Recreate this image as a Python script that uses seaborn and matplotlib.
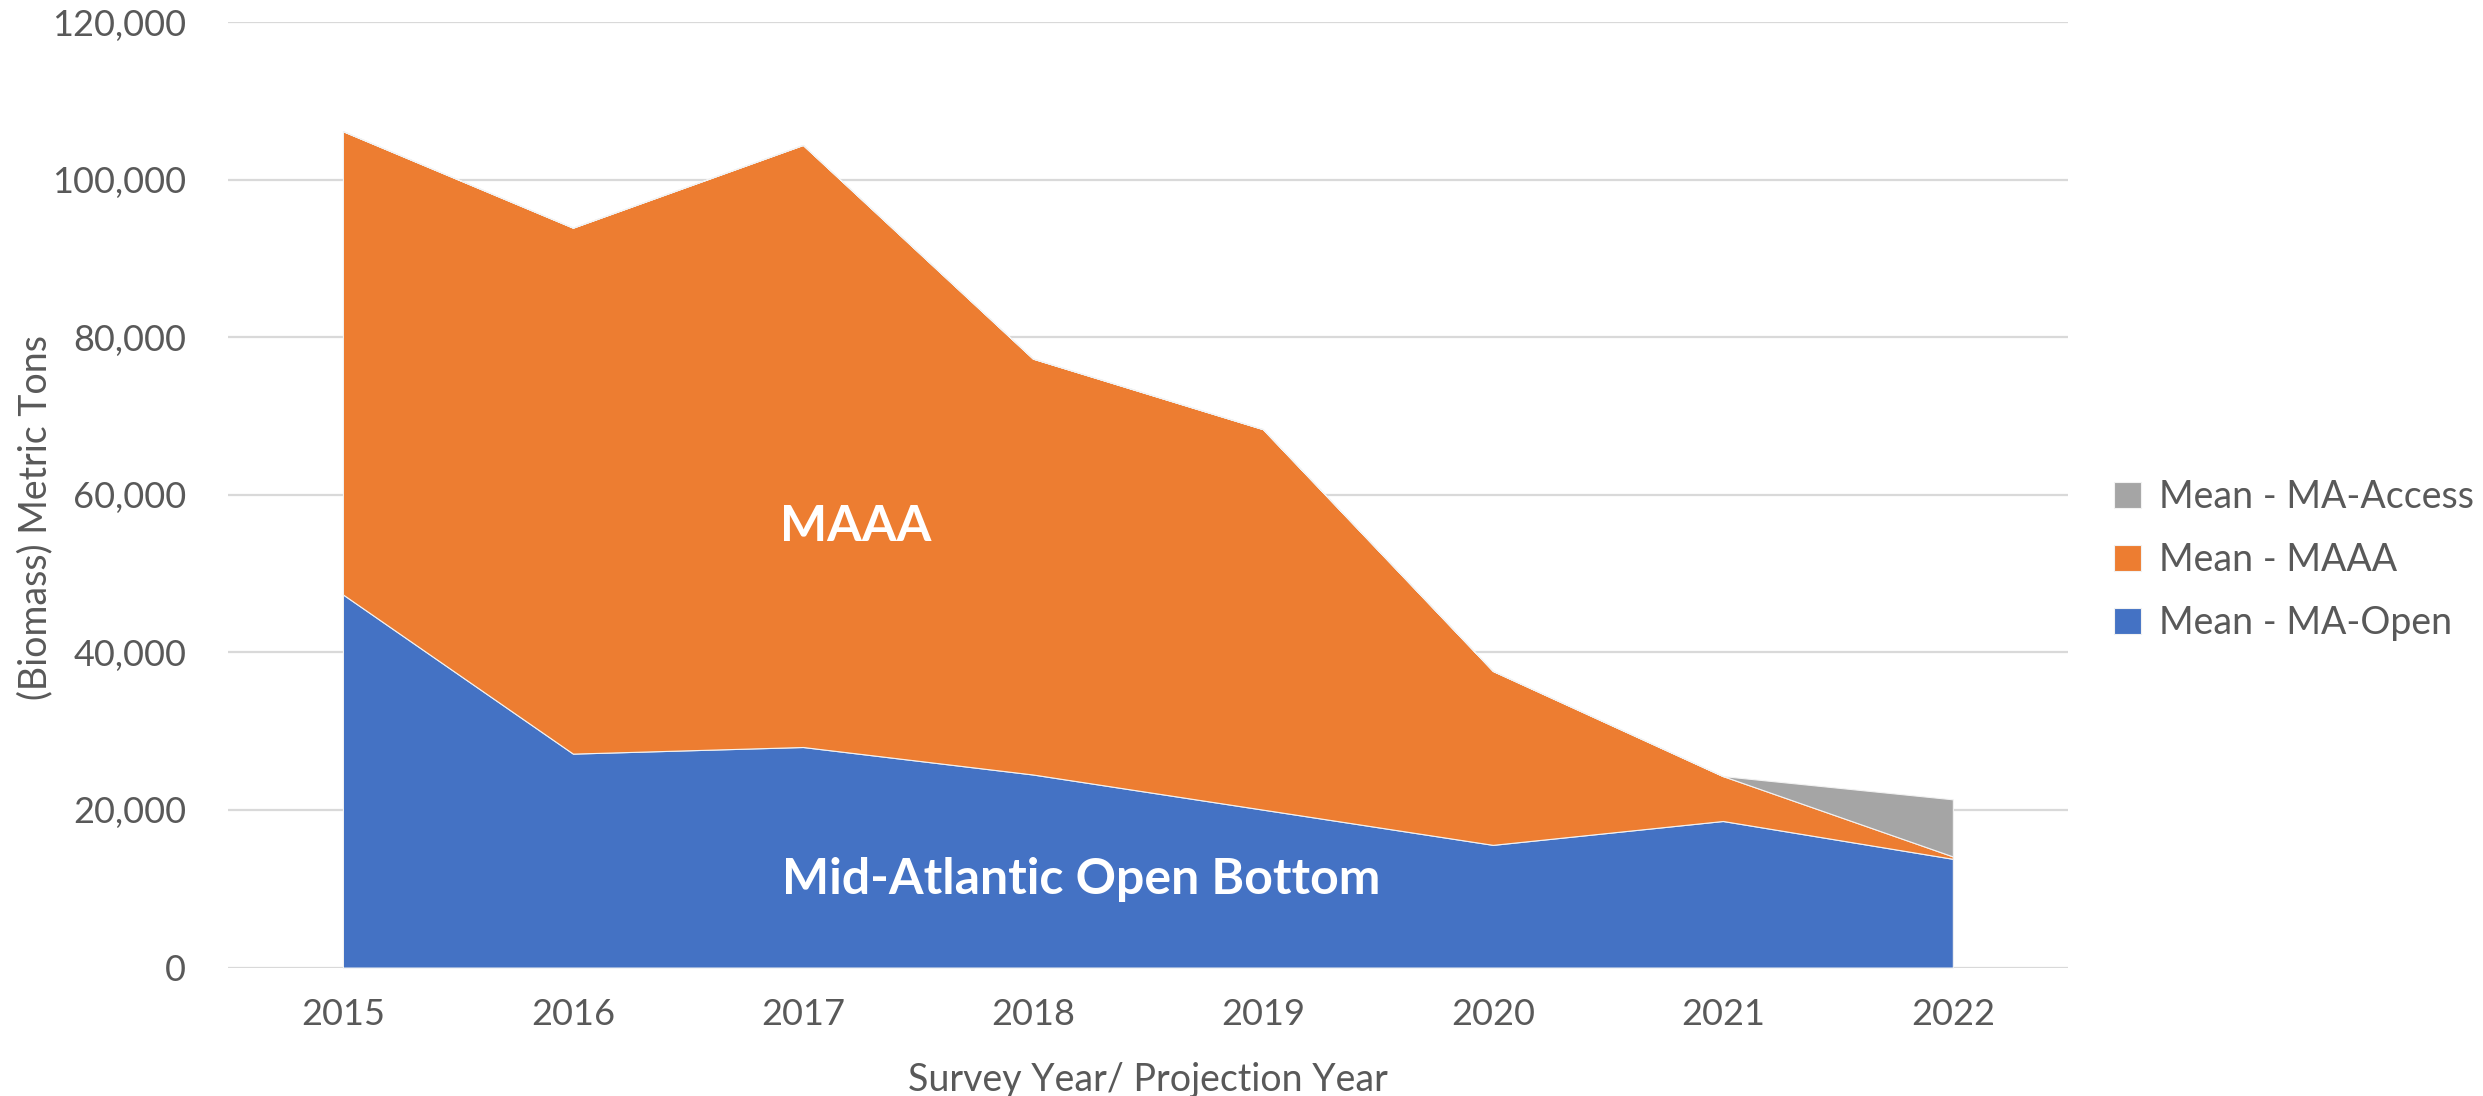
import matplotlib
matplotlib.use("Agg")
import matplotlib.pyplot as plt
import seaborn as sns
import numpy as np

# data (metric tons)
years = ["2015", "2016", "2017", "2018", "2019", "2020", "2021", "2022"]
ma_open = [47350, 27150, 27990, 24500, 20040, 15570, 18600, 13800]
maaa = [58800, 66750, 76410, 52780, 48290, 22070, 5700, 300]
ma_access = [0, 0, 0, 0, 0, 0, 0, 7250]

series_names = ["Mean - MA-Open", "Mean - MAAA", "Mean - MA-Access"]
colors = ["#4472C4", "#ED7D31", "#A5A5A5"]
yticks = [0, 20000, 40000, 60000, 80000, 100000, 120000]

sns.set_theme(style="white")
plt.rcParams["font.family"] = ["Lato", "DejaVu Sans"]
text_col = "#595959"

fig = plt.figure(figsize=(24.83, 10.96), dpi=100)
ax = fig.add_axes([0.0918, 0.1172, 0.741, 0.8627])

x = np.arange(len(years))
ax.stackplot(x, ma_open, maaa, ma_access, colors=colors, labels=series_names,
             linewidth=0.8, edgecolor="#F2F2F2", zorder=2)

ax.set_xlim(-0.5, len(years) - 0.5)
ax.set_ylim(0, 120000)
ax.set_yticks(yticks)
ax.set_yticklabels([f"{v:,}" for v in yticks])
ax.set_xticks(x)
ax.set_xticklabels(years)
ax.yaxis.grid(True, color="#D9D9D9", linewidth=1.6, zorder=0)
ax.xaxis.grid(False)
ax.set_axisbelow(True)
for s in ax.spines.values():
    s.set_visible(False)
ax.tick_params(axis="both", length=0, labelsize=26, colors=text_col)
ax.tick_params(axis="y", pad=30)
ax.tick_params(axis="x", pad=22)

ax.set_ylabel("(Biomass) Metric Tons", fontsize=27, color=text_col)
ax.yaxis.set_label_coords(-0.095, 0.476)
ax.set_xlabel("Survey Year/ Projection Year", fontsize=27, color=text_col, labelpad=22)

ax.text(2.23, 56000, "MAAA", color="white", fontsize=36, fontweight="bold",
        ha="center", va="center", zorder=5)
ax.text(3.21, 11200, "Mid-Atlantic Open Bottom", color="white", fontsize=36,
        fontweight="bold", ha="center", va="center", zorder=5)

handles, labels = ax.get_legend_handles_labels()
leg = ax.legend(handles[::-1], labels[::-1], loc="center left",
                bbox_to_anchor=(1.007, 0.431), frameon=False, fontsize=27,
                handlelength=0.7, handleheight=0.7, handletextpad=0.5,
                labelspacing=0.72, labelcolor=text_col)

fig.savefig("out.png", dpi=100)
